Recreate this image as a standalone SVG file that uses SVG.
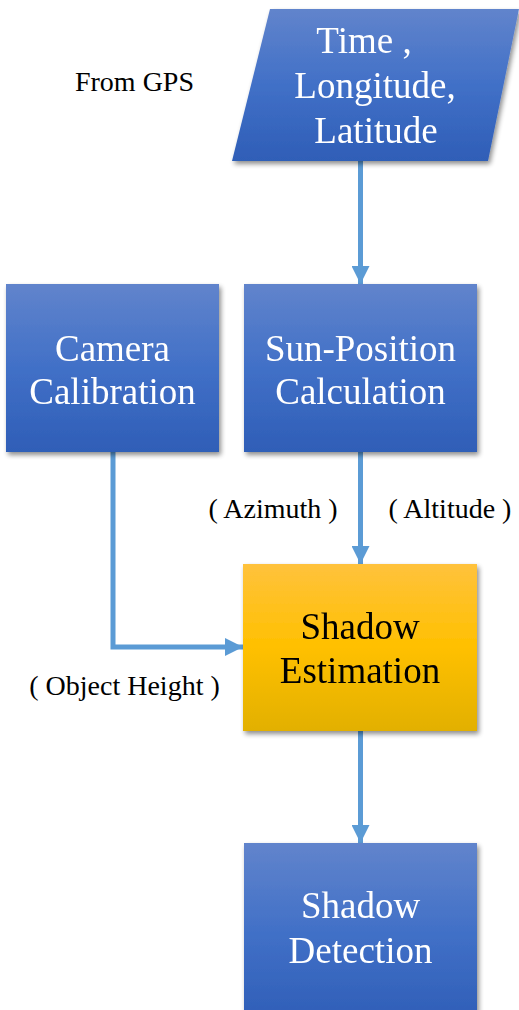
<svg xmlns="http://www.w3.org/2000/svg" width="519" height="1010" viewBox="0 0 519 1010">
<defs>
<linearGradient id="gBlue" x1="0" y1="0" x2="0" y2="1">
<stop offset="0" stop-color="#6184CC"/>
<stop offset="0.5" stop-color="#4170C7"/>
<stop offset="1" stop-color="#2F5EB7"/>
</linearGradient>
<linearGradient id="gOrange" x1="0" y1="0" x2="0" y2="1">
<stop offset="0" stop-color="#FFC23C"/>
<stop offset="0.5" stop-color="#FFC000"/>
<stop offset="1" stop-color="#E2B000"/>
</linearGradient>
<filter id="sh" x="-10%" y="-10%" width="125%" height="125%">
<feGaussianBlur in="SourceAlpha" stdDeviation="2.5"/>
<feOffset dx="2" dy="3" result="b"/>
<feComponentTransfer><feFuncA type="linear" slope="0.45"/></feComponentTransfer>
<feMerge><feMergeNode/><feMergeNode in="SourceGraphic"/></feMerge>
</filter>
<marker id="arr" viewBox="0 0 10 10" refX="10" refY="5" markerWidth="3.6" markerHeight="3.6" orient="auto" markerUnits="strokeWidth">
<path d="M0,0 L10,5 L0,10 z" fill="#5B9BD5"/>
</marker>
</defs>
<style>
.node{filter:url(#sh)}
.blue{fill:url(#gBlue)}
.orange{fill:url(#gOrange)}
.t{text-anchor:middle}
.w{fill:#FFFFFF;font-size:37px}
.k{fill:#000000;font-size:37px}
.lbl{font-size:28px;fill:#000000}
.c{fill:none;stroke:#5B9BD5;stroke-width:5}
</style>
<g id="connectors">
<line class="c" x1="360.5" y1="161" x2="360.5" y2="284" marker-end="url(#arr)"/>
<line class="c" x1="360.5" y1="452" x2="360.5" y2="564" marker-end="url(#arr)"/>
<polyline class="c" points="113,452 113,647 243,647" marker-end="url(#arr)"/>
<line class="c" x1="360.5" y1="731" x2="360.5" y2="843" marker-end="url(#arr)"/>
</g>
<g font-family="'Liberation Serif', Tinos, 'Times New Roman', 'DejaVu Serif', serif">
<g id="gps-input" class="node">
<polygon class="blue" points="270,9 519,9 488,161 232,161"/>
<text class="t w" x="364" y="53">Time ,</text>
<text class="t w" x="375" y="98">Longitude,</text>
<text class="t w" x="376" y="143">Latitude</text>
</g>
<g id="camera-calibration" class="node">
<rect class="blue" x="6" y="284" width="213" height="168"/>
<text class="t w" x="112.5" y="361">Camera</text>
<text class="t w" x="112.5" y="404">Calibration</text>
</g>
<g id="sun-position" class="node">
<rect class="blue" x="244" y="284" width="233" height="168"/>
<text class="t w" x="360.5" y="361">Sun-Position</text>
<text class="t w" x="360.5" y="404">Calculation</text>
</g>
<g id="shadow-estimation" class="node">
<rect class="orange" x="243" y="564" width="234" height="167"/>
<text class="t k" x="360" y="639">Shadow</text>
<text class="t k" x="360" y="683">Estimation</text>
</g>
<g id="shadow-detection" class="node">
<rect class="blue" x="244" y="843" width="233" height="180"/>
<text class="t w" x="360.5" y="918">Shadow</text>
<text class="t w" x="360.5" y="963">Detection</text>
</g>
<g id="labels">
<text class="lbl" x="134.5" y="91" text-anchor="middle">From GPS</text>
<text class="lbl" x="273" y="518" text-anchor="middle">( Azimuth )</text>
<text class="lbl" x="450" y="518" text-anchor="middle">( Altitude )</text>
<text class="lbl" x="124.5" y="695" text-anchor="middle">( Object Height )</text>
</g>
</g>
</svg>
